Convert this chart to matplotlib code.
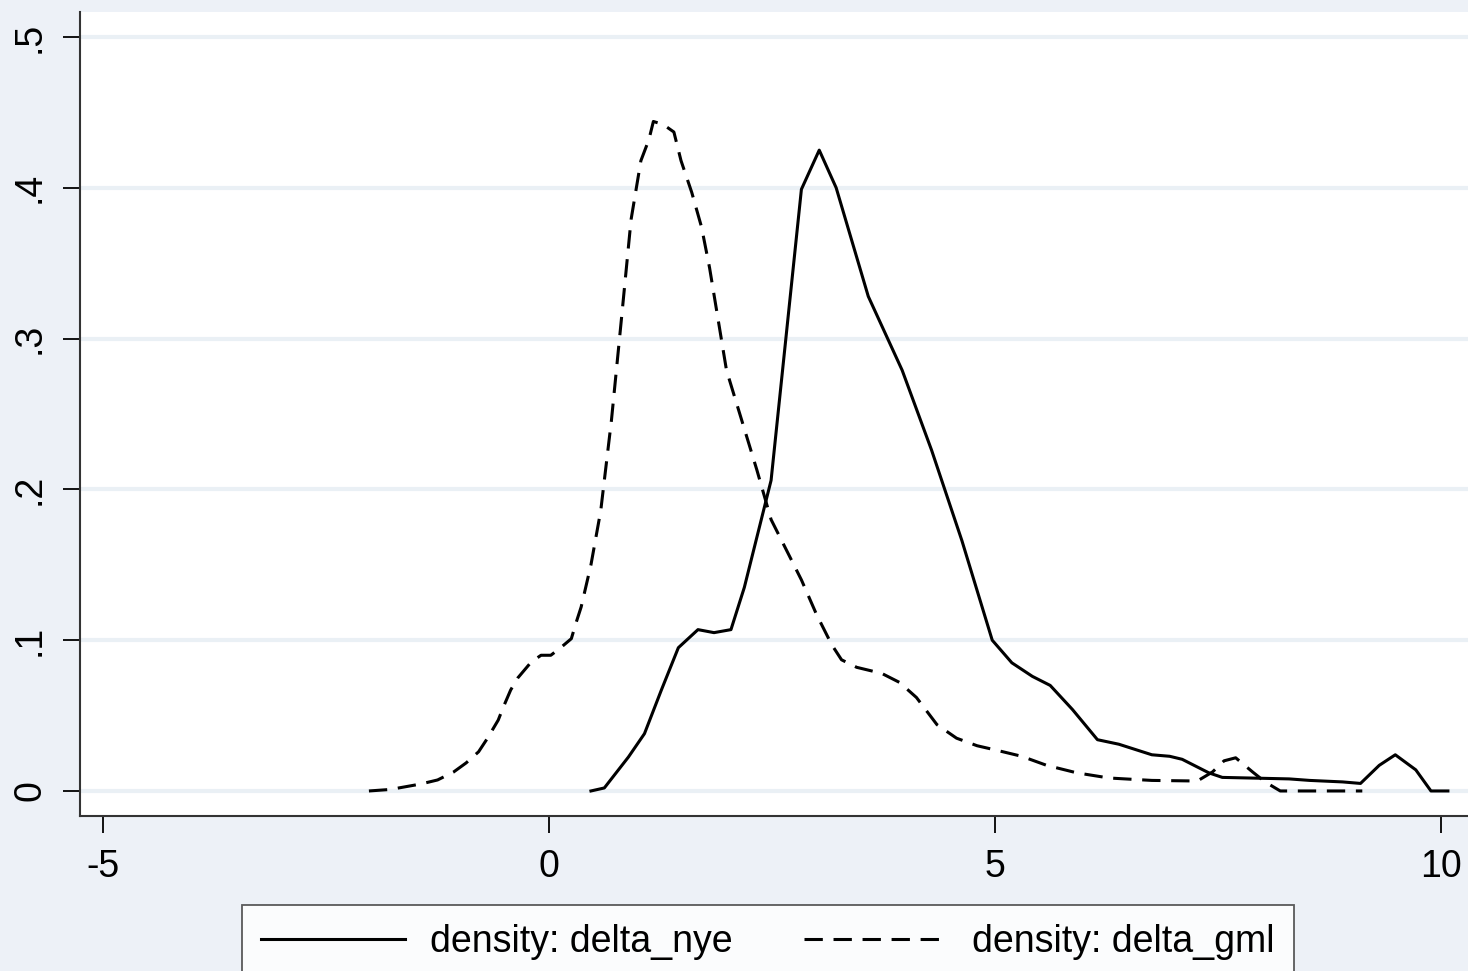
import numpy as np
import matplotlib
matplotlib.use("Agg")
import matplotlib.pyplot as plt

# density curves
nye_x = [0.47, 0.62, 0.89, 1.07, 1.26, 1.45, 1.67, 1.85, 2.04, 2.19, 2.49, 2.83, 3.03,
         3.22, 3.58, 3.96, 4.29, 4.63, 4.80, 4.97, 5.19, 5.42, 5.62, 5.87, 6.15, 6.39,
         6.76, 6.96, 7.10, 7.40, 7.55, 8.30, 8.53, 8.90, 9.10, 9.31, 9.49, 9.72, 9.89, 10.08]
nye_y = [0.0, 0.002, 0.0225, 0.038, 0.067, 0.095, 0.107, 0.105, 0.107, 0.135, 0.206, 0.399, 0.425,
         0.400, 0.328, 0.279, 0.226, 0.166, 0.133, 0.100, 0.085, 0.076, 0.070, 0.054, 0.034, 0.031,
         0.024, 0.023, 0.021, 0.012, 0.009, 0.008, 0.007, 0.006, 0.005, 0.017, 0.024, 0.014, 0.0, 0.0]

gml_x = [-2.02, -1.78, -1.44, -1.25, -1.07, -0.93, -0.79, -0.69, -0.57, -0.51, -0.43, -0.35,
         -0.20, -0.09, 0.02, 0.13, 0.25, 0.30, 0.36, 0.47, 0.58, 0.70, 0.81, 0.92, 1.03, 1.12,
         1.17, 1.28, 1.40, 1.48, 1.60, 1.71, 1.80, 1.99, 2.16, 2.33, 2.49, 2.66, 2.83, 3.00,
         3.17, 3.28, 3.45, 3.73, 3.93, 4.12, 4.35, 4.57, 4.80, 5.02, 5.30, 5.58, 5.92, 6.28,
         6.76, 7.27, 7.44, 7.57, 7.70, 7.89, 8.03, 8.20, 9.12]
gml_y = [0.0, 0.001, 0.0046, 0.0073, 0.0126, 0.0186, 0.026, 0.035, 0.047, 0.056, 0.067, 0.075,
         0.0855, 0.090, 0.090, 0.095, 0.101, 0.111, 0.122, 0.150, 0.186, 0.246, 0.312, 0.379, 0.418, 0.432,
         0.444, 0.442, 0.437, 0.418, 0.397, 0.374, 0.347, 0.279, 0.246, 0.213, 0.180, 0.160, 0.140, 0.117,
         0.097, 0.087, 0.082, 0.078, 0.072, 0.062, 0.044, 0.035, 0.030, 0.027, 0.023, 0.017, 0.012, 0.0086,
         0.007, 0.0066, 0.0126, 0.020, 0.022, 0.0126, 0.006, 0.0, 0.0]

xticks = [-5, 0, 5, 10]
xticklabels = ["-5", "0", "5", "10"]
yticks = [0, 0.1, 0.2, 0.3, 0.4, 0.5]
yticklabels = ["0", ".1", ".2", ".3", ".4", ".5"]

bg = "#EDF1F7"
grid_c = "#EAF0F5"

plt.rcParams['font.family'] = ['Liberation Sans', 'DejaVu Sans']

fig = plt.figure(figsize=(14.68, 9.71), dpi=100, facecolor=bg)
ax = fig.add_axes([80/1468, 155/971, 1.01 - 80/1468, (816-12)/971])
ax.set_facecolor("white")

ax.plot(nye_x, nye_y, color="black", lw=2.2, label="density: delta_nye", zorder=3)
ax.plot(gml_x, gml_y, color="black", lw=2.2, ls=(0, (6, 3.5)), label="density: delta_gml", zorder=3)

ax.set_xlim(-5.26, 10.47)
ax.set_ylim(-0.0166, 0.5166)

for yv in yticks:
    ax.axhline(yv, color=grid_c, lw=3, zorder=1)

ax.set_xticks(xticks)
ax.set_xticklabels(xticklabels)
ax.set_yticks(yticks)
ax.set_yticklabels(yticklabels, rotation=90, va="center")
ax.tick_params(axis="both", labelsize=27, length=12, width=1.3, direction="out")
ax.tick_params(axis="x", pad=12)
ax.tick_params(axis="y", pad=11)

for s in ["top", "right"]:
    ax.spines[s].set_visible(False)
for s in ["left", "bottom"]:
    ax.spines[s].set_linewidth(1.5)
    ax.spines[s].set_color("#333333")

leg = fig.legend(loc="upper center", bbox_to_anchor=(768/1468, 1 - 905/971), ncol=2,
                 fontsize=27, frameon=True, fancybox=False, edgecolor="#333333",
                 handlelength=3.85, handletextpad=0.65, columnspacing=1.9, borderpad=0.5,
                 borderaxespad=0)
leg.get_frame().set_linewidth(1.3)

fig.savefig("out.png", dpi=100, facecolor=bg)
